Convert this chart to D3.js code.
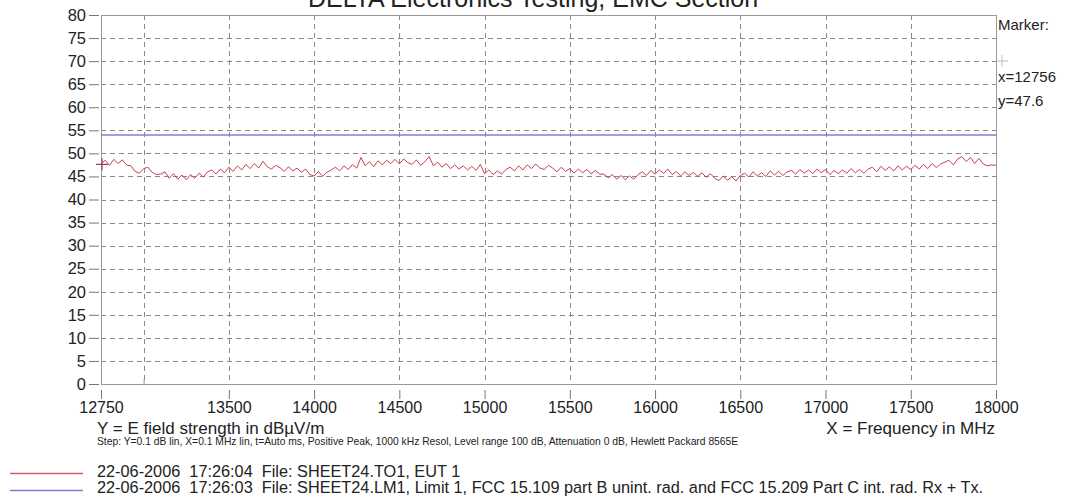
<!DOCTYPE html>
<html><head><meta charset="utf-8">
<script src="https://cdn.jsdelivr.net/npm/d3@7"></script>
<style>body{margin:0;background:#fff;}svg{display:block;font-family:"Liberation Sans",Arial,sans-serif;}text{white-space:pre;}</style>
</head><body>
<script>
const titleText = "DELTA Electronics Testing, EMC Section";
const yTicks = [0,5,10,15,20,25,30,35,40,45,50,55,60,65,70,75,80];
const xTickLabels = [12750,13500,14000,14500,15000,15500,16000,16500,17000,17500,18000];
const xGrid = [13000,13500,14000,14500,15000,15500,16000,16500,17000,17500];
const freqStart = 12750, freqStep = 25;
const eutValues = [
47.8,48.5,47.4,48.7,47.8,48.6,47.5,
47.3,46.1,45.7,
46.7,47.0,45.9,45.4,
45.5,46.0,44.6,45.6,44.4,45.3,44.3,45.4,44.6,45.7,44.9,46.0,
46.4,45.5,46.6,45.8,47.0,46.1,
47.3,46.4,47.6,46.7,47.8,46.8,48.3,47.1,46.6,47.4,
46.9,46.1,47.1,46.2,46.8,45.9,
46.6,45.4,45.1,46.1,45.0,45.9,
46.4,47.0,46.2,47.3,46.5,47.6,46.8,49.1,
47.3,48.2,47.1,48.4,47.5,48.5,
47.8,48.7,47.7,48.8,48.0,47.6,48.6,47.4,48.2,49.3,
47.3,48.1,47.0,47.8,46.7,47.5,46.6,47.3,46.4,47.2,46.3,47.6,
45.6,46.4,45.4,46.2,45.5,46.5,
47.0,46.2,47.3,46.4,47.5,46.7,47.7,46.8,46.5,47.4,
46.8,46.0,47.0,46.1,46.7,45.7,46.6,45.8,46.5,45.6,46.3,45.5,
45.5,44.7,45.4,44.4,45.2,44.3,45.1,44.4,
45.4,46.0,45.2,46.3,45.5,46.4,45.7,46.6,
45.4,46.1,45.1,46.0,45.2,45.9,45.0,45.8,44.8,45.6,
44.6,44.1,45.1,44.2,44.9,44.0,
45.2,45.7,44.9,46.0,45.1,45.8,45.0,46.2,45.3,46.1,45.2,46.0,
46.3,45.5,46.5,45.7,46.4,45.6,46.6,45.8,46.5,45.4,46.3,45.6,46.4,45.7,46.7,45.8,46.5,45.7,
46.6,47.0,46.0,47.2,46.3,47.1,46.2,47.3,46.4,47.2,
46.5,47.4,46.6,47.6,46.7,47.8,46.9,47.7,
48.1,48.5,47.5,48.8,49.3,48.2,49.1,47.8,48.9,47.7,47.3,47.5,47.4
];
const limitFreqs = [12750,18000];
const limitValues = [54,54];
const marker = {freq:12756, value:47.6};
const markerLines = ["Marker:", "x=12756", "y=47.6"];
const xAxisTitle = "X = Frequency in MHz";
const yAxisTitle = "Y = E field strength in dB\u00B5V/m";
const stepText = "Step: Y=0.1 dB lin, X=0.1 MHz lin, t=Auto ms, Positive Peak, 1000 kHz Resol, Level range 100 dB, Attenuation 0 dB, Hewlett Packard 8565E";
const legendTexts = ["22-06-2006  17:26:04  File: SHEET24.TO1, EUT 1",
  "22-06-2006  17:26:03  File: SHEET24.LM1, Limit 1, FCC 15.109 part B unint. rad. and FCC 15.209 Part C int. rad. Rx + Tx."];
const legendColors = ["#d85a68","#7c80d0"];

const W=1066,H=499;
const L=101,R=996,T=15,B=384;
const svg=d3.select("body").append("svg").attr("width",W).attr("height",H);
const x=d3.scaleLinear().domain([12750,18000]).range([L,R]);
const y=d3.scaleLinear().domain([0,80]).range([B,T]);

svg.append("text").attr("x",533).attr("y",7).attr("text-anchor","middle")
  .attr("font-size",25).attr("fill","#222").text(titleText);

// grid
const grid=svg.append("g").attr("stroke","#888").attr("stroke-width",1).attr("stroke-dasharray","5,4");
grid.selectAll("line.h").data(yTicks.filter(d=>d>0&&d<80)).enter().append("line")
  .attr("x1",L).attr("x2",R).attr("y1",d=>Math.round(y(d))+0.5).attr("y2",d=>Math.round(y(d))+0.5);
grid.selectAll("line.v").data(xGrid).enter().append("line")
  .attr("y1",T).attr("y2",B).attr("x1",d=>Math.round(x(d))+0.5).attr("x2",d=>Math.round(x(d))+0.5);

// frame
svg.append("rect").attr("x",L+0.5).attr("y",T+0.5).attr("width",R-L).attr("height",B-T)
  .attr("fill","none").attr("stroke","#999").attr("stroke-width",1);

// y axis
const yAx=svg.append("g").attr("transform",`translate(${L-2},0)`)
  .call(d3.axisLeft(y).tickValues(yTicks).tickSize(10).tickPadding(3));
yAx.select(".domain").remove();
yAx.selectAll("line").attr("stroke","#777");
yAx.selectAll("text").attr("font-size",16.5).attr("fill","#222").attr("font-family","Liberation Sans, Arial, sans-serif");

// x axis
const xAx=svg.append("g").attr("transform",`translate(0,${B+6})`)
  .call(d3.axisBottom(x).tickValues(xTickLabels).tickSize(9).tickPadding(2.5).tickFormat(d3.format("d")));
xAx.select(".domain").remove();
xAx.selectAll("line").attr("stroke","#777");
xAx.selectAll("text").attr("font-size",16).attr("fill","#222").attr("font-family","Liberation Sans, Arial, sans-serif");
svg.append("line").attr("x1",x(13000)+0.5).attr("x2",x(13000)+0.5).attr("y1",B-5).attr("y2",B).attr("stroke","#999");

// limit line
svg.append("path").datum(limitFreqs.map((f,i)=>[f,limitValues[i]]))
  .attr("d",d3.line().x(d=>x(d[0])).y(d=>y(d[1])))
  .attr("fill","none").attr("stroke",legendColors[1]).attr("stroke-width",1.5);

// EUT trace
svg.append("path").datum(eutValues.map((v,i)=>[freqStart+i*freqStep,v]))
  .attr("d",d3.line().x(d=>x(d[0])).y(d=>y(d[1])))
  .attr("fill","none").attr("stroke","#c8404e").attr("stroke-width",1);

// marker crosshair
const mx=x(marker.freq), my=y(marker.value);
svg.append("path").attr("d",`M${mx-6},${my}H${mx+6}M${mx},${my-6}V${my+6}`).attr("stroke","#8a4a5a").attr("stroke-width",1.2);
svg.append("path").attr("d",`M996,61H1008M1002,55V67`).attr("stroke","#bbb").attr("stroke-width",1);

// marker texts
svg.selectAll("text.mk").data(markerLines).enter().append("text")
  .attr("x",998).attr("y",(d,i)=>[30,82,106][i]).attr("font-size",15).attr("fill","#222").text(d=>d);

// axis titles
svg.append("text").attr("x",97).attr("y",433.5).attr("font-size",17).attr("fill","#222").text(yAxisTitle);
svg.append("text").attr("x",995).attr("y",433.5).attr("text-anchor","end").attr("font-size",17).attr("fill","#222").text(xAxisTitle);
svg.append("text").attr("x",97).attr("y",445).attr("font-size",10.3).attr("fill","#222").text(stepText);

// legend
legendTexts.forEach((t,i)=>{
  const yy=[473,490][i];
  svg.append("line").attr("x1",10).attr("x2",83).attr("y1",yy+0.5).attr("y2",yy+0.5).attr("stroke",legendColors[i]).attr("stroke-width",1.3);
  svg.append("text").attr("x",97).attr("y",[477,493][i]).attr("font-size",16.3).attr("fill","#222").text(t);
});
</script>
</body></html>
